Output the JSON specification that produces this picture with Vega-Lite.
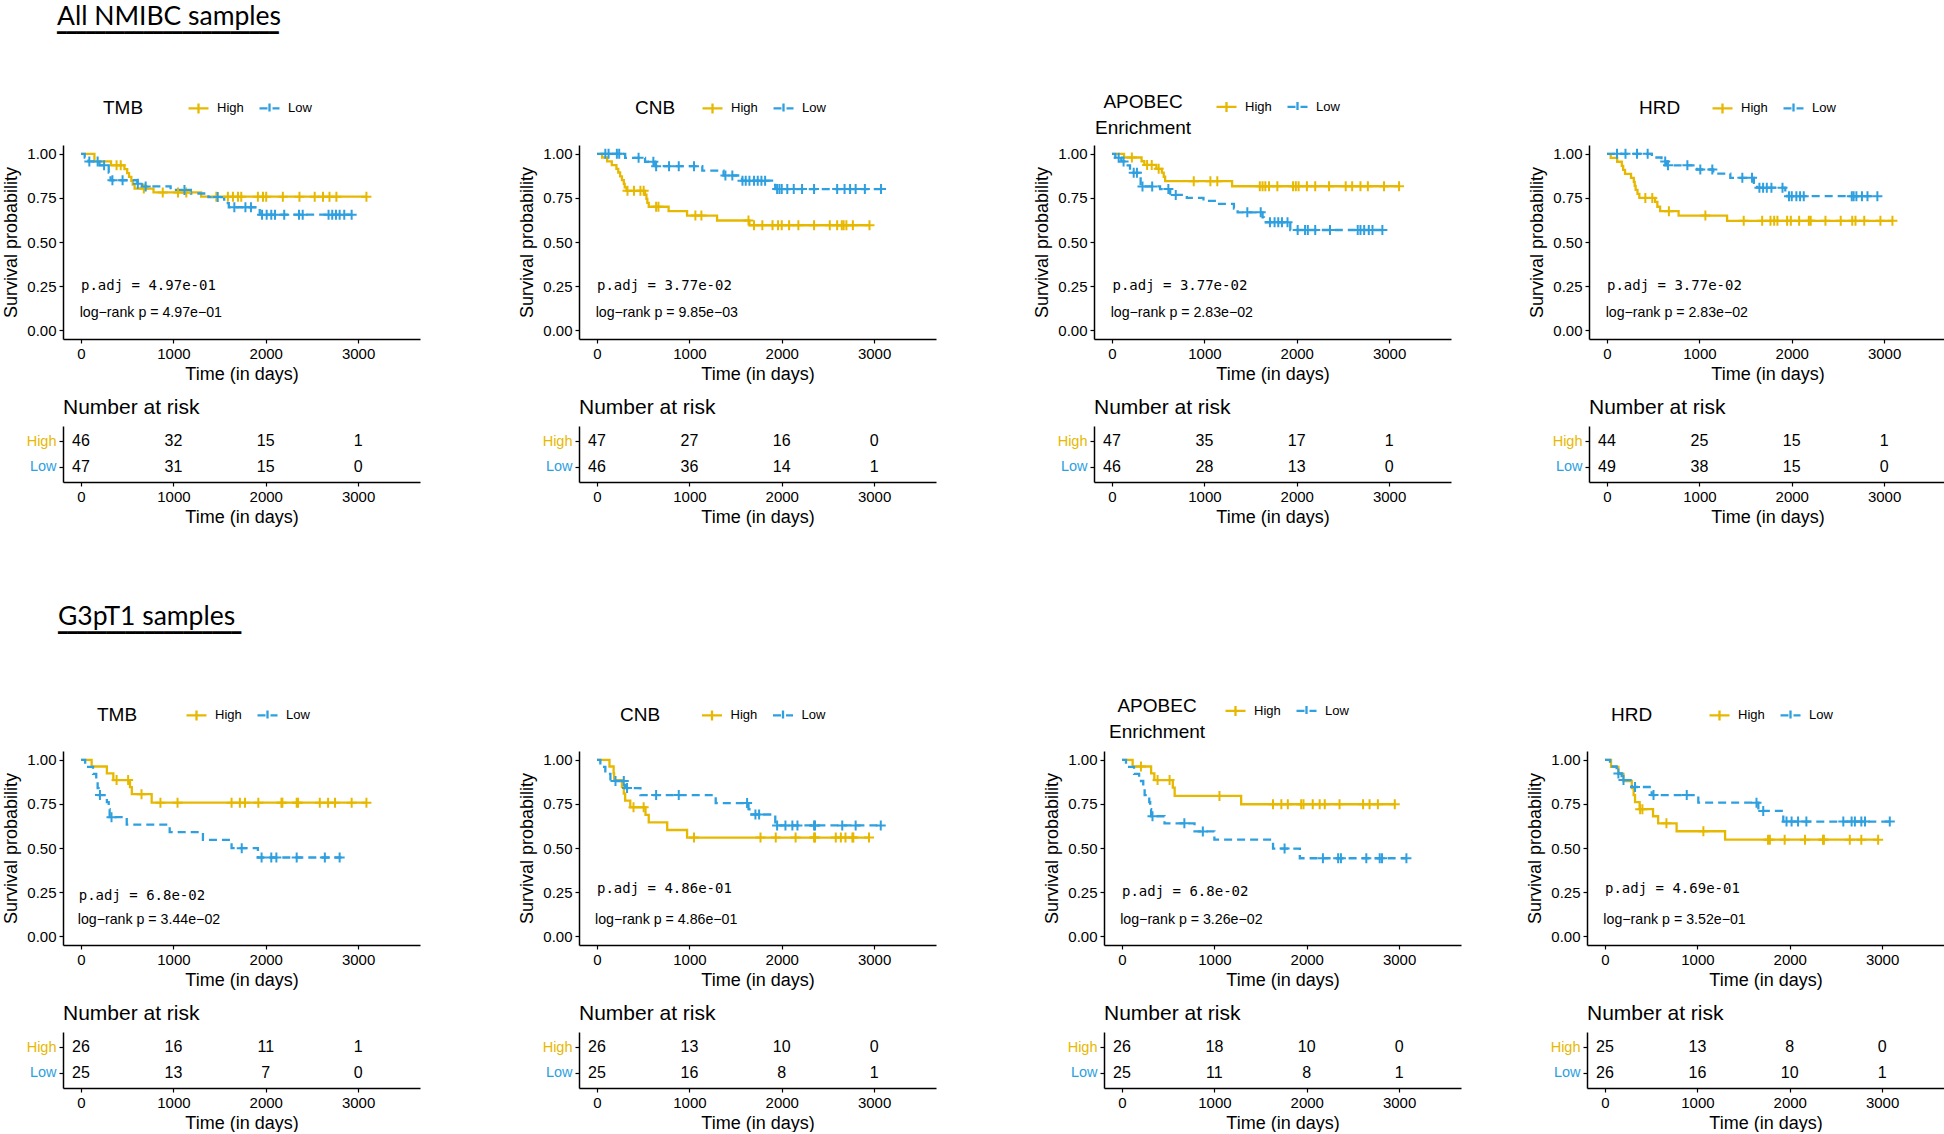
{
"$schema": "https://vega.github.io/schema/vega-lite/v6.json",
"background": "white",
"padding": {"left": 2, "top": 3, "right": 0, "bottom": 0},
"datasets": {
"steps": [
{"panel":"a1","group":"High","time":0,"surv":1},{"panel":"a1","group":"High","time":145,"surv":0.957},{"panel":"a1","group":"High","time":325,"surv":0.935},{"panel":"a1","group":"High","time":470,"surv":0.913},{"panel":"a1","group":"High","time":500,"surv":0.891},{"panel":"a1","group":"High","time":520,"surv":0.869},{"panel":"a1","group":"High","time":545,"surv":0.847},{"panel":"a1","group":"High","time":560,"surv":0.825},{"panel":"a1","group":"High","time":580,"surv":0.803},{"panel":"a1","group":"High","time":785,"surv":0.781},{"panel":"a1","group":"High","time":1300,"surv":0.757},{"panel":"a1","group":"High","time":3090,"surv":0.757},
{"panel":"a1","group":"Low","time":0,"surv":1},{"panel":"a1","group":"Low","time":40,"surv":0.979},{"panel":"a1","group":"Low","time":80,"surv":0.957},{"panel":"a1","group":"Low","time":200,"surv":0.935},{"panel":"a1","group":"Low","time":300,"surv":0.893},{"panel":"a1","group":"Low","time":320,"surv":0.85},{"panel":"a1","group":"Low","time":610,"surv":0.83},{"panel":"a1","group":"Low","time":660,"surv":0.815},{"panel":"a1","group":"Low","time":970,"surv":0.795},{"panel":"a1","group":"Low","time":1190,"surv":0.775},{"panel":"a1","group":"Low","time":1380,"surv":0.755},{"panel":"a1","group":"Low","time":1550,"surv":0.72},{"panel":"a1","group":"Low","time":1600,"surv":0.697},{"panel":"a1","group":"Low","time":1935,"surv":0.655},{"panel":"a1","group":"Low","time":2930,"surv":0.655},
{"panel":"a2","group":"High","time":0,"surv":1},{"panel":"a2","group":"High","time":55,"surv":0.979},{"panel":"a2","group":"High","time":110,"surv":0.957},{"panel":"a2","group":"High","time":160,"surv":0.936},{"panel":"a2","group":"High","time":210,"surv":0.915},{"panel":"a2","group":"High","time":230,"surv":0.894},{"panel":"a2","group":"High","time":250,"surv":0.872},{"panel":"a2","group":"High","time":270,"surv":0.851},{"panel":"a2","group":"High","time":290,"surv":0.83},{"panel":"a2","group":"High","time":300,"surv":0.81},{"panel":"a2","group":"High","time":320,"surv":0.79},{"panel":"a2","group":"High","time":520,"surv":0.768},{"panel":"a2","group":"High","time":535,"surv":0.745},{"panel":"a2","group":"High","time":545,"surv":0.722},{"panel":"a2","group":"High","time":560,"surv":0.7},{"panel":"a2","group":"High","time":775,"surv":0.675},{"panel":"a2","group":"High","time":975,"surv":0.65},{"panel":"a2","group":"High","time":1300,"surv":0.622},{"panel":"a2","group":"High","time":1650,"surv":0.595},{"panel":"a2","group":"High","time":2950,"surv":0.595},
{"panel":"a2","group":"Low","time":0,"surv":1},{"panel":"a2","group":"Low","time":305,"surv":0.977},{"panel":"a2","group":"Low","time":520,"surv":0.955},{"panel":"a2","group":"Low","time":630,"surv":0.93},{"panel":"a2","group":"Low","time":1140,"surv":0.905},{"panel":"a2","group":"Low","time":1370,"surv":0.877},{"panel":"a2","group":"Low","time":1570,"surv":0.848},{"panel":"a2","group":"Low","time":1895,"surv":0.824},{"panel":"a2","group":"Low","time":1930,"surv":0.8},{"panel":"a2","group":"Low","time":3075,"surv":0.8},
{"panel":"a3","group":"High","time":0,"surv":1},{"panel":"a3","group":"High","time":130,"surv":0.979},{"panel":"a3","group":"High","time":320,"surv":0.958},{"panel":"a3","group":"High","time":350,"surv":0.937},{"panel":"a3","group":"High","time":480,"surv":0.915},{"panel":"a3","group":"High","time":540,"surv":0.893},{"panel":"a3","group":"High","time":560,"surv":0.87},{"panel":"a3","group":"High","time":575,"surv":0.845},{"panel":"a3","group":"High","time":1300,"surv":0.816},{"panel":"a3","group":"High","time":3108,"surv":0.816},
{"panel":"a3","group":"Low","time":0,"surv":1},{"panel":"a3","group":"Low","time":36,"surv":0.978},{"panel":"a3","group":"Low","time":100,"surv":0.957},{"panel":"a3","group":"Low","time":150,"surv":0.935},{"panel":"a3","group":"Low","time":195,"surv":0.892},{"panel":"a3","group":"Low","time":300,"surv":0.87},{"panel":"a3","group":"Low","time":310,"surv":0.815},{"panel":"a3","group":"Low","time":520,"surv":0.8},{"panel":"a3","group":"Low","time":630,"surv":0.767},{"panel":"a3","group":"Low","time":810,"surv":0.75},{"panel":"a3","group":"Low","time":990,"surv":0.733},{"panel":"a3","group":"Low","time":1140,"surv":0.716},{"panel":"a3","group":"Low","time":1320,"surv":0.69},{"panel":"a3","group":"Low","time":1360,"surv":0.668},{"panel":"a3","group":"Low","time":1630,"surv":0.64},{"panel":"a3","group":"Low","time":1645,"surv":0.612},{"panel":"a3","group":"Low","time":1930,"surv":0.568},{"panel":"a3","group":"Low","time":2927,"surv":0.568},
{"panel":"a4","group":"High","time":0,"surv":1},{"panel":"a4","group":"High","time":40,"surv":0.977},{"panel":"a4","group":"High","time":110,"surv":0.955},{"panel":"a4","group":"High","time":160,"surv":0.932},{"panel":"a4","group":"High","time":175,"surv":0.909},{"panel":"a4","group":"High","time":195,"surv":0.886},{"panel":"a4","group":"High","time":260,"surv":0.864},{"panel":"a4","group":"High","time":290,"surv":0.841},{"panel":"a4","group":"High","time":300,"surv":0.818},{"panel":"a4","group":"High","time":310,"surv":0.795},{"panel":"a4","group":"High","time":330,"surv":0.773},{"panel":"a4","group":"High","time":350,"surv":0.75},{"panel":"a4","group":"High","time":520,"surv":0.727},{"panel":"a4","group":"High","time":545,"surv":0.7},{"panel":"a4","group":"High","time":575,"surv":0.675},{"panel":"a4","group":"High","time":775,"surv":0.65},{"panel":"a4","group":"High","time":1300,"surv":0.62},{"panel":"a4","group":"High","time":3090,"surv":0.62},
{"panel":"a4","group":"Low","time":0,"surv":1},{"panel":"a4","group":"Low","time":485,"surv":0.979},{"panel":"a4","group":"Low","time":590,"surv":0.957},{"panel":"a4","group":"Low","time":650,"surv":0.935},{"panel":"a4","group":"Low","time":975,"surv":0.911},{"panel":"a4","group":"Low","time":1150,"surv":0.888},{"panel":"a4","group":"Low","time":1335,"surv":0.864},{"panel":"a4","group":"Low","time":1590,"surv":0.835},{"panel":"a4","group":"Low","time":1625,"surv":0.808},{"panel":"a4","group":"Low","time":1930,"surv":0.784},{"panel":"a4","group":"Low","time":1950,"surv":0.76},{"panel":"a4","group":"Low","time":2927,"surv":0.76},
{"panel":"b1","group":"High","time":0,"surv":1},{"panel":"b1","group":"High","time":115,"surv":0.962},{"panel":"b1","group":"High","time":280,"surv":0.923},{"panel":"b1","group":"High","time":350,"surv":0.885},{"panel":"b1","group":"High","time":530,"surv":0.845},{"panel":"b1","group":"High","time":550,"surv":0.805},{"panel":"b1","group":"High","time":765,"surv":0.757},{"panel":"b1","group":"High","time":3090,"surv":0.757},
{"panel":"b1","group":"Low","time":0,"surv":1},{"panel":"b1","group":"Low","time":45,"surv":0.96},{"panel":"b1","group":"Low","time":130,"surv":0.92},{"panel":"b1","group":"Low","time":165,"surv":0.88},{"panel":"b1","group":"Low","time":180,"surv":0.84},{"panel":"b1","group":"Low","time":190,"surv":0.8},{"panel":"b1","group":"Low","time":280,"surv":0.76},{"panel":"b1","group":"Low","time":300,"surv":0.72},{"panel":"b1","group":"Low","time":310,"surv":0.675},{"panel":"b1","group":"Low","time":495,"surv":0.633},{"panel":"b1","group":"Low","time":960,"surv":0.59},{"panel":"b1","group":"Low","time":1320,"surv":0.546},{"panel":"b1","group":"Low","time":1630,"surv":0.499},{"panel":"b1","group":"Low","time":1915,"surv":0.446},{"panel":"b1","group":"Low","time":2820,"surv":0.446},
{"panel":"b2","group":"High","time":0,"surv":1},{"panel":"b2","group":"High","time":135,"surv":0.962},{"panel":"b2","group":"High","time":180,"surv":0.923},{"panel":"b2","group":"High","time":185,"surv":0.885},{"panel":"b2","group":"High","time":270,"surv":0.846},{"panel":"b2","group":"High","time":290,"surv":0.808},{"panel":"b2","group":"High","time":305,"surv":0.769},{"panel":"b2","group":"High","time":360,"surv":0.731},{"panel":"b2","group":"High","time":525,"surv":0.688},{"panel":"b2","group":"High","time":560,"surv":0.645},{"panel":"b2","group":"High","time":760,"surv":0.602},{"panel":"b2","group":"High","time":975,"surv":0.559},{"panel":"b2","group":"High","time":2950,"surv":0.559},
{"panel":"b2","group":"Low","time":0,"surv":1},{"panel":"b2","group":"Low","time":36,"surv":0.96},{"panel":"b2","group":"Low","time":90,"surv":0.92},{"panel":"b2","group":"Low","time":145,"surv":0.88},{"panel":"b2","group":"Low","time":305,"surv":0.84},{"panel":"b2","group":"Low","time":470,"surv":0.8},{"panel":"b2","group":"Low","time":1285,"surv":0.755},{"panel":"b2","group":"Low","time":1640,"surv":0.72},{"panel":"b2","group":"Low","time":1650,"surv":0.69},{"panel":"b2","group":"Low","time":1930,"surv":0.628},{"panel":"b2","group":"Low","time":3072,"surv":0.628},
{"panel":"b3","group":"High","time":0,"surv":1},{"panel":"b3","group":"High","time":115,"surv":0.962},{"panel":"b3","group":"High","time":315,"surv":0.923},{"panel":"b3","group":"High","time":350,"surv":0.885},{"panel":"b3","group":"High","time":550,"surv":0.842},{"panel":"b3","group":"High","time":570,"surv":0.795},{"panel":"b3","group":"High","time":1290,"surv":0.748},{"panel":"b3","group":"High","time":2953,"surv":0.748},
{"panel":"b3","group":"Low","time":0,"surv":1},{"panel":"b3","group":"Low","time":43,"surv":0.96},{"panel":"b3","group":"Low","time":130,"surv":0.92},{"panel":"b3","group":"Low","time":185,"surv":0.88},{"panel":"b3","group":"Low","time":230,"surv":0.84},{"panel":"b3","group":"Low","time":245,"surv":0.8},{"panel":"b3","group":"Low","time":295,"surv":0.76},{"panel":"b3","group":"Low","time":305,"surv":0.72},{"panel":"b3","group":"Low","time":315,"surv":0.68},{"panel":"b3","group":"Low","time":460,"surv":0.64},{"panel":"b3","group":"Low","time":785,"surv":0.594},{"panel":"b3","group":"Low","time":1000,"surv":0.547},{"panel":"b3","group":"Low","time":1635,"surv":0.497},{"panel":"b3","group":"Low","time":1925,"surv":0.442},{"panel":"b3","group":"Low","time":3079,"surv":0.442},
{"panel":"b4","group":"High","time":0,"surv":1},{"panel":"b4","group":"High","time":65,"surv":0.96},{"panel":"b4","group":"High","time":145,"surv":0.92},{"panel":"b4","group":"High","time":200,"surv":0.88},{"panel":"b4","group":"High","time":290,"surv":0.84},{"panel":"b4","group":"High","time":310,"surv":0.8},{"panel":"b4","group":"High","time":325,"surv":0.76},{"panel":"b4","group":"High","time":375,"surv":0.72},{"panel":"b4","group":"High","time":520,"surv":0.68},{"panel":"b4","group":"High","time":575,"surv":0.64},{"panel":"b4","group":"High","time":775,"surv":0.595},{"panel":"b4","group":"High","time":1300,"surv":0.547},{"panel":"b4","group":"High","time":2957,"surv":0.547},
{"panel":"b4","group":"Low","time":0,"surv":1},{"panel":"b4","group":"Low","time":54,"surv":0.962},{"panel":"b4","group":"Low","time":126,"surv":0.923},{"panel":"b4","group":"Low","time":180,"surv":0.885},{"panel":"b4","group":"Low","time":290,"surv":0.846},{"panel":"b4","group":"Low","time":505,"surv":0.8},{"panel":"b4","group":"Low","time":1010,"surv":0.757},{"panel":"b4","group":"Low","time":1660,"surv":0.71},{"panel":"b4","group":"Low","time":1930,"surv":0.65},{"panel":"b4","group":"Low","time":3085,"surv":0.65}
],
"censors": [
{"panel":"a1","group":"High","time":385,"surv":0.935},{"panel":"a1","group":"High","time":430,"surv":0.935},{"panel":"a1","group":"High","time":680,"surv":0.803},{"panel":"a1","group":"High","time":885,"surv":0.781},{"panel":"a1","group":"High","time":1050,"surv":0.781},{"panel":"a1","group":"High","time":1140,"surv":0.781},{"panel":"a1","group":"High","time":1465,"surv":0.757},{"panel":"a1","group":"High","time":1590,"surv":0.757},{"panel":"a1","group":"High","time":1645,"surv":0.757},{"panel":"a1","group":"High","time":1700,"surv":0.757},{"panel":"a1","group":"High","time":1735,"surv":0.757},{"panel":"a1","group":"High","time":1915,"surv":0.757},{"panel":"a1","group":"High","time":1970,"surv":0.757},{"panel":"a1","group":"High","time":2005,"surv":0.757},{"panel":"a1","group":"High","time":2185,"surv":0.757},{"panel":"a1","group":"High","time":2365,"surv":0.757},{"panel":"a1","group":"High","time":2530,"surv":0.757},{"panel":"a1","group":"High","time":2620,"surv":0.757},{"panel":"a1","group":"High","time":2690,"surv":0.757},{"panel":"a1","group":"High","time":2765,"surv":0.757},{"panel":"a1","group":"High","time":3090,"surv":0.757},
{"panel":"a1","group":"Low","time":90,"surv":0.957},{"panel":"a1","group":"Low","time":180,"surv":0.957},{"panel":"a1","group":"Low","time":250,"surv":0.935},{"panel":"a1","group":"Low","time":340,"surv":0.85},{"panel":"a1","group":"Low","time":450,"surv":0.85},{"panel":"a1","group":"Low","time":615,"surv":0.83},{"panel":"a1","group":"Low","time":700,"surv":0.815},{"panel":"a1","group":"Low","time":1120,"surv":0.795},{"panel":"a1","group":"Low","time":1480,"surv":0.755},{"panel":"a1","group":"Low","time":1660,"surv":0.697},{"panel":"a1","group":"Low","time":1780,"surv":0.697},{"panel":"a1","group":"Low","time":1840,"surv":0.697},{"panel":"a1","group":"Low","time":1960,"surv":0.655},{"panel":"a1","group":"Low","time":2010,"surv":0.655},{"panel":"a1","group":"Low","time":2060,"surv":0.655},{"panel":"a1","group":"Low","time":2100,"surv":0.655},{"panel":"a1","group":"Low","time":2200,"surv":0.655},{"panel":"a1","group":"Low","time":2360,"surv":0.655},{"panel":"a1","group":"Low","time":2400,"surv":0.655},{"panel":"a1","group":"Low","time":2680,"surv":0.655},{"panel":"a1","group":"Low","time":2720,"surv":0.655},{"panel":"a1","group":"Low","time":2760,"surv":0.655},{"panel":"a1","group":"Low","time":2800,"surv":0.655},{"panel":"a1","group":"Low","time":2850,"surv":0.655},{"panel":"a1","group":"Low","time":2930,"surv":0.655},
{"panel":"a2","group":"High","time":330,"surv":0.79},{"panel":"a2","group":"High","time":400,"surv":0.79},{"panel":"a2","group":"High","time":470,"surv":0.79},{"panel":"a2","group":"High","time":505,"surv":0.79},{"panel":"a2","group":"High","time":640,"surv":0.7},{"panel":"a2","group":"High","time":665,"surv":0.7},{"panel":"a2","group":"High","time":1065,"surv":0.65},{"panel":"a2","group":"High","time":1130,"surv":0.65},{"panel":"a2","group":"High","time":1640,"surv":0.622},{"panel":"a2","group":"High","time":1700,"surv":0.595},{"panel":"a2","group":"High","time":1790,"surv":0.595},{"panel":"a2","group":"High","time":1900,"surv":0.595},{"panel":"a2","group":"High","time":1960,"surv":0.595},{"panel":"a2","group":"High","time":2000,"surv":0.595},{"panel":"a2","group":"High","time":2080,"surv":0.595},{"panel":"a2","group":"High","time":2180,"surv":0.595},{"panel":"a2","group":"High","time":2350,"surv":0.595},{"panel":"a2","group":"High","time":2520,"surv":0.595},{"panel":"a2","group":"High","time":2600,"surv":0.595},{"panel":"a2","group":"High","time":2650,"surv":0.595},{"panel":"a2","group":"High","time":2670,"surv":0.595},{"panel":"a2","group":"High","time":2700,"surv":0.595},{"panel":"a2","group":"High","time":2770,"surv":0.595},{"panel":"a2","group":"High","time":2950,"surv":0.595},
{"panel":"a2","group":"Low","time":90,"surv":1},{"panel":"a2","group":"Low","time":125,"surv":1},{"panel":"a2","group":"Low","time":215,"surv":1},{"panel":"a2","group":"Low","time":240,"surv":1},{"panel":"a2","group":"Low","time":450,"surv":0.977},{"panel":"a2","group":"Low","time":610,"surv":0.955},{"panel":"a2","group":"Low","time":640,"surv":0.93},{"panel":"a2","group":"Low","time":780,"surv":0.93},{"panel":"a2","group":"Low","time":885,"surv":0.93},{"panel":"a2","group":"Low","time":1050,"surv":0.93},{"panel":"a2","group":"Low","time":1390,"surv":0.877},{"panel":"a2","group":"Low","time":1465,"surv":0.877},{"panel":"a2","group":"Low","time":1575,"surv":0.848},{"panel":"a2","group":"Low","time":1610,"surv":0.848},{"panel":"a2","group":"Low","time":1650,"surv":0.848},{"panel":"a2","group":"Low","time":1700,"surv":0.848},{"panel":"a2","group":"Low","time":1740,"surv":0.848},{"panel":"a2","group":"Low","time":1780,"surv":0.848},{"panel":"a2","group":"Low","time":1820,"surv":0.848},{"panel":"a2","group":"Low","time":1950,"surv":0.8},{"panel":"a2","group":"Low","time":1975,"surv":0.8},{"panel":"a2","group":"Low","time":2000,"surv":0.8},{"panel":"a2","group":"Low","time":2060,"surv":0.8},{"panel":"a2","group":"Low","time":2130,"surv":0.8},{"panel":"a2","group":"Low","time":2220,"surv":0.8},{"panel":"a2","group":"Low","time":2350,"surv":0.8},{"panel":"a2","group":"Low","time":2600,"surv":0.8},{"panel":"a2","group":"Low","time":2680,"surv":0.8},{"panel":"a2","group":"Low","time":2740,"surv":0.8},{"panel":"a2","group":"Low","time":2800,"surv":0.8},{"panel":"a2","group":"Low","time":2900,"surv":0.8},{"panel":"a2","group":"Low","time":3075,"surv":0.8},
{"panel":"a3","group":"High","time":215,"surv":0.979},{"panel":"a3","group":"High","time":380,"surv":0.937},{"panel":"a3","group":"High","time":430,"surv":0.937},{"panel":"a3","group":"High","time":505,"surv":0.915},{"panel":"a3","group":"High","time":885,"surv":0.845},{"panel":"a3","group":"High","time":1065,"surv":0.845},{"panel":"a3","group":"High","time":1140,"surv":0.845},{"panel":"a3","group":"High","time":1600,"surv":0.816},{"panel":"a3","group":"High","time":1630,"surv":0.816},{"panel":"a3","group":"High","time":1660,"surv":0.816},{"panel":"a3","group":"High","time":1700,"surv":0.816},{"panel":"a3","group":"High","time":1790,"surv":0.816},{"panel":"a3","group":"High","time":1960,"surv":0.816},{"panel":"a3","group":"High","time":1990,"surv":0.816},{"panel":"a3","group":"High","time":2020,"surv":0.816},{"panel":"a3","group":"High","time":2110,"surv":0.816},{"panel":"a3","group":"High","time":2200,"surv":0.816},{"panel":"a3","group":"High","time":2350,"surv":0.816},{"panel":"a3","group":"High","time":2530,"surv":0.816},{"panel":"a3","group":"High","time":2600,"surv":0.816},{"panel":"a3","group":"High","time":2690,"surv":0.816},{"panel":"a3","group":"High","time":2770,"surv":0.816},{"panel":"a3","group":"High","time":2945,"surv":0.816},{"panel":"a3","group":"High","time":3108,"surv":0.816},
{"panel":"a3","group":"Low","time":72,"surv":0.978},{"panel":"a3","group":"Low","time":125,"surv":0.957},{"panel":"a3","group":"Low","time":235,"surv":0.892},{"panel":"a3","group":"Low","time":270,"surv":0.892},{"panel":"a3","group":"Low","time":330,"surv":0.815},{"panel":"a3","group":"Low","time":435,"surv":0.815},{"panel":"a3","group":"Low","time":610,"surv":0.8},{"panel":"a3","group":"Low","time":690,"surv":0.767},{"panel":"a3","group":"Low","time":1465,"surv":0.668},{"panel":"a3","group":"Low","time":1610,"surv":0.668},{"panel":"a3","group":"Low","time":1710,"surv":0.612},{"panel":"a3","group":"Low","time":1760,"surv":0.612},{"panel":"a3","group":"Low","time":1800,"surv":0.612},{"panel":"a3","group":"Low","time":1840,"surv":0.612},{"panel":"a3","group":"Low","time":1900,"surv":0.612},{"panel":"a3","group":"Low","time":2010,"surv":0.568},{"panel":"a3","group":"Low","time":2090,"surv":0.568},{"panel":"a3","group":"Low","time":2120,"surv":0.568},{"panel":"a3","group":"Low","time":2200,"surv":0.568},{"panel":"a3","group":"Low","time":2360,"surv":0.568},{"panel":"a3","group":"Low","time":2660,"surv":0.568},{"panel":"a3","group":"Low","time":2690,"surv":0.568},{"panel":"a3","group":"Low","time":2730,"surv":0.568},{"panel":"a3","group":"Low","time":2780,"surv":0.568},{"panel":"a3","group":"Low","time":2820,"surv":0.568},{"panel":"a3","group":"Low","time":2927,"surv":0.568},
{"panel":"a4","group":"High","time":415,"surv":0.75},{"panel":"a4","group":"High","time":490,"surv":0.75},{"panel":"a4","group":"High","time":670,"surv":0.675},{"panel":"a4","group":"High","time":1065,"surv":0.65},{"panel":"a4","group":"High","time":1480,"surv":0.62},{"panel":"a4","group":"High","time":1680,"surv":0.62},{"panel":"a4","group":"High","time":1770,"surv":0.62},{"panel":"a4","group":"High","time":1810,"surv":0.62},{"panel":"a4","group":"High","time":1845,"surv":0.62},{"panel":"a4","group":"High","time":1950,"surv":0.62},{"panel":"a4","group":"High","time":1990,"surv":0.62},{"panel":"a4","group":"High","time":2080,"surv":0.62},{"panel":"a4","group":"High","time":2185,"surv":0.62},{"panel":"a4","group":"High","time":2205,"surv":0.62},{"panel":"a4","group":"High","time":2365,"surv":0.62},{"panel":"a4","group":"High","time":2530,"surv":0.62},{"panel":"a4","group":"High","time":2655,"surv":0.62},{"panel":"a4","group":"High","time":2690,"surv":0.62},{"panel":"a4","group":"High","time":2785,"surv":0.62},{"panel":"a4","group":"High","time":2960,"surv":0.62},{"panel":"a4","group":"High","time":3090,"surv":0.62},
{"panel":"a4","group":"Low","time":108,"surv":1},{"panel":"a4","group":"Low","time":200,"surv":1},{"panel":"a4","group":"Low","time":325,"surv":1},{"panel":"a4","group":"Low","time":440,"surv":1},{"panel":"a4","group":"Low","time":630,"surv":0.957},{"panel":"a4","group":"Low","time":660,"surv":0.935},{"panel":"a4","group":"Low","time":870,"surv":0.935},{"panel":"a4","group":"Low","time":1010,"surv":0.911},{"panel":"a4","group":"Low","time":1140,"surv":0.911},{"panel":"a4","group":"Low","time":1465,"surv":0.864},{"panel":"a4","group":"Low","time":1570,"surv":0.864},{"panel":"a4","group":"Low","time":1650,"surv":0.808},{"panel":"a4","group":"Low","time":1690,"surv":0.808},{"panel":"a4","group":"Low","time":1730,"surv":0.808},{"panel":"a4","group":"Low","time":1780,"surv":0.808},{"panel":"a4","group":"Low","time":1900,"surv":0.808},{"panel":"a4","group":"Low","time":1970,"surv":0.76},{"panel":"a4","group":"Low","time":2000,"surv":0.76},{"panel":"a4","group":"Low","time":2050,"surv":0.76},{"panel":"a4","group":"Low","time":2090,"surv":0.76},{"panel":"a4","group":"Low","time":2130,"surv":0.76},{"panel":"a4","group":"Low","time":2650,"surv":0.76},{"panel":"a4","group":"Low","time":2670,"surv":0.76},{"panel":"a4","group":"Low","time":2700,"surv":0.76},{"panel":"a4","group":"Low","time":2760,"surv":0.76},{"panel":"a4","group":"Low","time":2820,"surv":0.76},{"panel":"a4","group":"Low","time":2927,"surv":0.76},
{"panel":"b1","group":"High","time":385,"surv":0.885},{"panel":"b1","group":"High","time":510,"surv":0.885},{"panel":"b1","group":"High","time":655,"surv":0.805},{"panel":"b1","group":"High","time":860,"surv":0.757},{"panel":"b1","group":"High","time":1045,"surv":0.757},{"panel":"b1","group":"High","time":1630,"surv":0.757},{"panel":"b1","group":"High","time":1720,"surv":0.757},{"panel":"b1","group":"High","time":1775,"surv":0.757},{"panel":"b1","group":"High","time":1920,"surv":0.757},{"panel":"b1","group":"High","time":2170,"surv":0.757},{"panel":"b1","group":"High","time":2180,"surv":0.757},{"panel":"b1","group":"High","time":2335,"surv":0.757},{"panel":"b1","group":"High","time":2350,"surv":0.757},{"panel":"b1","group":"High","time":2585,"surv":0.757},{"panel":"b1","group":"High","time":2675,"surv":0.757},{"panel":"b1","group":"High","time":2750,"surv":0.757},{"panel":"b1","group":"High","time":2930,"surv":0.757},{"panel":"b1","group":"High","time":3090,"surv":0.757},
{"panel":"b1","group":"Low","time":205,"surv":0.8},{"panel":"b1","group":"Low","time":330,"surv":0.675},{"panel":"b1","group":"Low","time":1740,"surv":0.499},{"panel":"b1","group":"Low","time":1955,"surv":0.446},{"panel":"b1","group":"Low","time":2060,"surv":0.446},{"panel":"b1","group":"Low","time":2115,"surv":0.446},{"panel":"b1","group":"Low","time":2335,"surv":0.446},{"panel":"b1","group":"Low","time":2640,"surv":0.446},{"panel":"b1","group":"Low","time":2800,"surv":0.446},
{"panel":"b2","group":"High","time":395,"surv":0.731},{"panel":"b2","group":"High","time":505,"surv":0.731},{"panel":"b2","group":"High","time":1050,"surv":0.559},{"panel":"b2","group":"High","time":1770,"surv":0.559},{"panel":"b2","group":"High","time":1935,"surv":0.559},{"panel":"b2","group":"High","time":2150,"surv":0.559},{"panel":"b2","group":"High","time":2350,"surv":0.559},{"panel":"b2","group":"High","time":2360,"surv":0.559},{"panel":"b2","group":"High","time":2585,"surv":0.559},{"panel":"b2","group":"High","time":2640,"surv":0.559},{"panel":"b2","group":"High","time":2690,"surv":0.559},{"panel":"b2","group":"High","time":2765,"surv":0.559},{"panel":"b2","group":"High","time":2775,"surv":0.559},{"panel":"b2","group":"High","time":2945,"surv":0.559},
{"panel":"b2","group":"Low","time":200,"surv":0.88},{"panel":"b2","group":"Low","time":290,"surv":0.88},{"panel":"b2","group":"Low","time":325,"surv":0.84},{"panel":"b2","group":"Low","time":640,"surv":0.8},{"panel":"b2","group":"Low","time":885,"surv":0.8},{"panel":"b2","group":"Low","time":1625,"surv":0.755},{"panel":"b2","group":"Low","time":1715,"surv":0.69},{"panel":"b2","group":"Low","time":1755,"surv":0.69},{"panel":"b2","group":"Low","time":1950,"surv":0.628},{"panel":"b2","group":"Low","time":2040,"surv":0.628},{"panel":"b2","group":"Low","time":2115,"surv":0.628},{"panel":"b2","group":"Low","time":2170,"surv":0.628},{"panel":"b2","group":"Low","time":2350,"surv":0.628},{"panel":"b2","group":"Low","time":2360,"surv":0.628},{"panel":"b2","group":"Low","time":2655,"surv":0.628},{"panel":"b2","group":"Low","time":2800,"surv":0.628},{"panel":"b2","group":"Low","time":3072,"surv":0.628},
{"panel":"b3","group":"High","time":205,"surv":0.962},{"panel":"b3","group":"High","time":385,"surv":0.885},{"panel":"b3","group":"High","time":515,"surv":0.885},{"panel":"b3","group":"High","time":1055,"surv":0.795},{"panel":"b3","group":"High","time":1635,"surv":0.748},{"panel":"b3","group":"High","time":1725,"surv":0.748},{"panel":"b3","group":"High","time":1795,"surv":0.748},{"panel":"b3","group":"High","time":1940,"surv":0.748},{"panel":"b3","group":"High","time":1965,"surv":0.748},{"panel":"b3","group":"High","time":2065,"surv":0.748},{"panel":"b3","group":"High","time":2140,"surv":0.748},{"panel":"b3","group":"High","time":2195,"surv":0.748},{"panel":"b3","group":"High","time":2355,"surv":0.748},{"panel":"b3","group":"High","time":2610,"surv":0.748},{"panel":"b3","group":"High","time":2680,"surv":0.748},{"panel":"b3","group":"High","time":2770,"surv":0.748},{"panel":"b3","group":"High","time":2953,"surv":0.748},
{"panel":"b3","group":"Low","time":330,"surv":0.68},{"panel":"b3","group":"Low","time":675,"surv":0.64},{"panel":"b3","group":"Low","time":875,"surv":0.594},{"panel":"b3","group":"Low","time":1760,"surv":0.497},{"panel":"b3","group":"Low","time":2175,"surv":0.442},{"panel":"b3","group":"Low","time":2340,"surv":0.442},{"panel":"b3","group":"Low","time":2370,"surv":0.442},{"panel":"b3","group":"Low","time":2645,"surv":0.442},{"panel":"b3","group":"Low","time":2790,"surv":0.442},{"panel":"b3","group":"Low","time":2815,"surv":0.442},{"panel":"b3","group":"Low","time":3079,"surv":0.442},
{"panel":"b4","group":"High","time":380,"surv":0.72},{"panel":"b4","group":"High","time":405,"surv":0.72},{"panel":"b4","group":"High","time":665,"surv":0.64},{"panel":"b4","group":"High","time":1065,"surv":0.595},{"panel":"b4","group":"High","time":1765,"surv":0.547},{"panel":"b4","group":"High","time":1785,"surv":0.547},{"panel":"b4","group":"High","time":1945,"surv":0.547},{"panel":"b4","group":"High","time":2165,"surv":0.547},{"panel":"b4","group":"High","time":2360,"surv":0.547},{"panel":"b4","group":"High","time":2370,"surv":0.547},{"panel":"b4","group":"High","time":2650,"surv":0.547},{"panel":"b4","group":"High","time":2775,"surv":0.547},{"panel":"b4","group":"High","time":2957,"surv":0.547},
{"panel":"b4","group":"Low","time":145,"surv":0.923},{"panel":"b4","group":"Low","time":200,"surv":0.885},{"panel":"b4","group":"Low","time":325,"surv":0.846},{"panel":"b4","group":"Low","time":525,"surv":0.8},{"panel":"b4","group":"Low","time":885,"surv":0.8},{"panel":"b4","group":"Low","time":1640,"surv":0.757},{"panel":"b4","group":"Low","time":1713,"surv":0.71},{"panel":"b4","group":"Low","time":1965,"surv":0.65},{"panel":"b4","group":"Low","time":2020,"surv":0.65},{"panel":"b4","group":"Low","time":2090,"surv":0.65},{"panel":"b4","group":"Low","time":2180,"surv":0.65},{"panel":"b4","group":"Low","time":2580,"surv":0.65},{"panel":"b4","group":"Low","time":2670,"surv":0.65},{"panel":"b4","group":"Low","time":2705,"surv":0.65},{"panel":"b4","group":"Low","time":2775,"surv":0.65},{"panel":"b4","group":"Low","time":2815,"surv":0.65},{"panel":"b4","group":"Low","time":3083,"surv":0.65}
],
"stats": [
{"panel":"a1","padj":"p.adj = 4.97e-01","lr":"log−rank p = 4.97e−01"},
{"panel":"a2","padj":"p.adj = 3.77e-02","lr":"log−rank p = 9.85e−03"},
{"panel":"a3","padj":"p.adj = 3.77e-02","lr":"log−rank p = 2.83e−02"},
{"panel":"a4","padj":"p.adj = 3.77e-02","lr":"log−rank p = 2.83e−02"},
{"panel":"b1","padj":"p.adj = 6.8e-02","lr":"log−rank p = 3.44e−02"},
{"panel":"b2","padj":"p.adj = 4.86e-01","lr":"log−rank p = 4.86e−01"},
{"panel":"b3","padj":"p.adj = 6.8e-02","lr":"log−rank p = 3.26e−02"},
{"panel":"b4","padj":"p.adj = 4.69e-01","lr":"log−rank p = 3.52e−01"}
],
"risk": [
{"panel":"a1","group":"High","time":0,"n":46},{"panel":"a1","group":"High","time":1000,"n":32},{"panel":"a1","group":"High","time":2000,"n":15},{"panel":"a1","group":"High","time":3000,"n":1},
{"panel":"a1","group":"Low","time":0,"n":47},{"panel":"a1","group":"Low","time":1000,"n":31},{"panel":"a1","group":"Low","time":2000,"n":15},{"panel":"a1","group":"Low","time":3000,"n":0},
{"panel":"a2","group":"High","time":0,"n":47},{"panel":"a2","group":"High","time":1000,"n":27},{"panel":"a2","group":"High","time":2000,"n":16},{"panel":"a2","group":"High","time":3000,"n":0},
{"panel":"a2","group":"Low","time":0,"n":46},{"panel":"a2","group":"Low","time":1000,"n":36},{"panel":"a2","group":"Low","time":2000,"n":14},{"panel":"a2","group":"Low","time":3000,"n":1},
{"panel":"a3","group":"High","time":0,"n":47},{"panel":"a3","group":"High","time":1000,"n":35},{"panel":"a3","group":"High","time":2000,"n":17},{"panel":"a3","group":"High","time":3000,"n":1},
{"panel":"a3","group":"Low","time":0,"n":46},{"panel":"a3","group":"Low","time":1000,"n":28},{"panel":"a3","group":"Low","time":2000,"n":13},{"panel":"a3","group":"Low","time":3000,"n":0},
{"panel":"a4","group":"High","time":0,"n":44},{"panel":"a4","group":"High","time":1000,"n":25},{"panel":"a4","group":"High","time":2000,"n":15},{"panel":"a4","group":"High","time":3000,"n":1},
{"panel":"a4","group":"Low","time":0,"n":49},{"panel":"a4","group":"Low","time":1000,"n":38},{"panel":"a4","group":"Low","time":2000,"n":15},{"panel":"a4","group":"Low","time":3000,"n":0},
{"panel":"b1","group":"High","time":0,"n":26},{"panel":"b1","group":"High","time":1000,"n":16},{"panel":"b1","group":"High","time":2000,"n":11},{"panel":"b1","group":"High","time":3000,"n":1},
{"panel":"b1","group":"Low","time":0,"n":25},{"panel":"b1","group":"Low","time":1000,"n":13},{"panel":"b1","group":"Low","time":2000,"n":7},{"panel":"b1","group":"Low","time":3000,"n":0},
{"panel":"b2","group":"High","time":0,"n":26},{"panel":"b2","group":"High","time":1000,"n":13},{"panel":"b2","group":"High","time":2000,"n":10},{"panel":"b2","group":"High","time":3000,"n":0},
{"panel":"b2","group":"Low","time":0,"n":25},{"panel":"b2","group":"Low","time":1000,"n":16},{"panel":"b2","group":"Low","time":2000,"n":8},{"panel":"b2","group":"Low","time":3000,"n":1},
{"panel":"b3","group":"High","time":0,"n":26},{"panel":"b3","group":"High","time":1000,"n":18},{"panel":"b3","group":"High","time":2000,"n":10},{"panel":"b3","group":"High","time":3000,"n":0},
{"panel":"b3","group":"Low","time":0,"n":25},{"panel":"b3","group":"Low","time":1000,"n":11},{"panel":"b3","group":"Low","time":2000,"n":8},{"panel":"b3","group":"Low","time":3000,"n":1},
{"panel":"b4","group":"High","time":0,"n":25},{"panel":"b4","group":"High","time":1000,"n":13},{"panel":"b4","group":"High","time":2000,"n":8},{"panel":"b4","group":"High","time":3000,"n":0},
{"panel":"b4","group":"Low","time":0,"n":26},{"panel":"b4","group":"Low","time":1000,"n":16},{"panel":"b4","group":"Low","time":2000,"n":10},{"panel":"b4","group":"Low","time":3000,"n":1}
]
},
"spacing": 77,
"resolve": {"scale": {"color": "independent", "strokeDash": "independent"}, "legend": {"color": "independent", "strokeDash": "independent"}},
"vconcat": [
{
"title": {"text": "All NMIBC samples", "subtitle": "━━━━━━━━━━━━━━━━━━━━━━━", "anchor": "start", "frame": "bounds", "dx": 55, "font": "Lato", "fontSize": 26.5, "fontWeight": "normal", "color": "black", "subtitleFont": "DejaVu Sans Mono", "subtitleFontSize": 16, "subtitleColor": "black", "subtitlePadding": -5, "offset": 54},
"spacing": 98,
"resolve": {"scale": {"color": "independent", "strokeDash": "independent"}, "legend": {"color": "independent", "strokeDash": "independent"}},
"hconcat": [
{"spacing": 14, "resolve": {"scale": {"color": "independent", "strokeDash": "independent"}, "legend": {"color": "independent", "strokeDash": "independent"}}, "vconcat": [
{"width": 357, "height": 194,
"layer": [
{"data": {"name": "steps"}, "transform": [{"filter": "datum.panel === 'a1'"}], "mark": {"type": "line", "interpolate": "step-after", "strokeWidth": 2.3},
"encoding": {"x": {"field": "time", "type": "quantitative", "scale": {"domain": [-195, 3670], "nice": false, "zero": false}, "axis": {"values": [0, 1000, 2000, 3000], "format": "d", "title": "Time (in days)"}},
"y": {"field": "surv", "type": "quantitative", "scale": {"domain": [-0.05, 1.05], "nice": false, "zero": false}, "axis": {"values": [0, 0.25, 0.5, 0.75, 1], "format": ".2f", "title": "Survival probability"}},
"color": {"field": "group", "type": "nominal", "scale": {"domain": ["High", "Low"], "range": ["#E7B800", "#2E9FDF"]}, "legend": {"title": "TMB", "orient": "none", "legendX": 40, "legendY": -48.5, "direction": "horizontal", "titleOrient": "left", "titleBaseline": "middle", "titlePadding": 43, "symbolType": "M-1,0H1M0,-0.5V0.5", "symbolSize": 400, "symbolStrokeWidth": 2.3}},
"strokeDash": {"field": "group", "type": "nominal", "scale": {"domain": ["High", "Low"], "range": [[1, 0], [8, 5]]}, "legend": {"title": "TMB", "orient": "none", "legendX": 40, "legendY": -48.5, "direction": "horizontal", "titleOrient": "left", "titleBaseline": "middle", "titlePadding": 43, "symbolType": "M-1,0H1M0,-0.5V0.5", "symbolSize": 400, "symbolStrokeWidth": 2.3}}}},
{"data": {"name": "censors"}, "transform": [{"filter": "datum.panel === 'a1'"}], "mark": {"type": "point", "shape": "M-1,0H1M0,-1V1", "size": 100, "filled": false, "strokeWidth": 2, "opacity": 1},
"encoding": {"x": {"field": "time", "type": "quantitative", "scale": {"domain": [-195, 3670], "nice": false, "zero": false}, "axis": {"values": [0, 1000, 2000, 3000], "format": "d", "title": "Time (in days)"}},
"y": {"field": "surv", "type": "quantitative", "scale": {"domain": [-0.05, 1.05], "nice": false, "zero": false}, "axis": {"values": [0, 0.25, 0.5, 0.75, 1], "format": ".2f", "title": "Survival probability"}},
"color": {"field": "group", "type": "nominal", "scale": {"domain": ["High", "Low"], "range": ["#E7B800", "#2E9FDF"]}, "legend": {"title": "TMB", "orient": "none", "legendX": 40, "legendY": -48.5, "direction": "horizontal", "titleOrient": "left", "titleBaseline": "middle", "titlePadding": 43, "symbolType": "M-1,0H1M0,-0.5V0.5", "symbolSize": 400, "symbolStrokeWidth": 2.3}}}},
{"data": {"name": "stats"}, "transform": [{"filter": "datum.panel === 'a1'"}], "mark": {"type": "text", "align": "left", "baseline": "middle", "font": "DejaVu Sans Mono", "fontSize": 14, "color": "black"}, "encoding": {"x": {"datum": 0, "type": "quantitative"}, "y": {"datum": 0.25, "type": "quantitative"}, "text": {"field": "padj", "type": "nominal"}}},
{"data": {"name": "stats"}, "transform": [{"filter": "datum.panel === 'a1'"}], "mark": {"type": "text", "align": "left", "baseline": "middle", "fontSize": 14.2, "color": "black"}, "encoding": {"x": {"datum": -15, "type": "quantitative"}, "y": {"datum": 0.095, "type": "quantitative"}, "text": {"field": "lr", "type": "nominal"}}}
]},
{"width": 357, "height": 56, "title": {"text": "Number at risk", "anchor": "start", "frame": "group", "fontSize": 21, "fontWeight": "normal", "offset": 8, "color": "black"},
"data": {"name": "risk"}, "transform": [{"filter": "datum.panel === 'a1'"}], "mark": {"type": "text", "fontSize": 16, "baseline": "middle", "color": "black"},
"encoding": {"x": {"field": "time", "type": "quantitative", "scale": {"domain": [-195, 3670], "nice": false, "zero": false}, "axis": {"values": [0, 1000, 2000, 3000], "format": "d", "title": "Time (in days)"}},
"y": {"field": "group", "type": "nominal", "scale": {"type": "point", "domain": ["High", "Low"], "padding": 0.577}, "axis": {"title": " ", "labelFontSize": 14.5, "labelColor": {"condition": {"test": "datum.value === 'High'", "value": "#E7B800"}, "value": "#2E9FDF"}}},
"text": {"field": "n", "type": "quantitative"}}}
]},
{"spacing": 97, "resolve": {"scale": {"color": "independent", "strokeDash": "independent"}, "legend": {"color": "independent", "strokeDash": "independent"}}, "hconcat": [
{"spacing": 14, "resolve": {"scale": {"color": "independent", "strokeDash": "independent"}, "legend": {"color": "independent", "strokeDash": "independent"}}, "vconcat": [
{"width": 357, "height": 194,
"layer": [
{"data": {"name": "steps"}, "transform": [{"filter": "datum.panel === 'a2'"}], "mark": {"type": "line", "interpolate": "step-after", "strokeWidth": 2.3},
"encoding": {"x": {"field": "time", "type": "quantitative", "scale": {"domain": [-195, 3670], "nice": false, "zero": false}, "axis": {"values": [0, 1000, 2000, 3000], "format": "d", "title": "Time (in days)"}},
"y": {"field": "surv", "type": "quantitative", "scale": {"domain": [-0.05, 1.05], "nice": false, "zero": false}, "axis": {"values": [0, 0.25, 0.5, 0.75, 1], "format": ".2f", "title": "Survival probability"}},
"color": {"field": "group", "type": "nominal", "scale": {"domain": ["High", "Low"], "range": ["#E7B800", "#2E9FDF"]}, "legend": {"title": "CNB", "orient": "none", "legendX": 56, "legendY": -48.5, "direction": "horizontal", "titleOrient": "left", "titleBaseline": "middle", "titlePadding": 25, "symbolType": "M-1,0H1M0,-0.5V0.5", "symbolSize": 400, "symbolStrokeWidth": 2.3}},
"strokeDash": {"field": "group", "type": "nominal", "scale": {"domain": ["High", "Low"], "range": [[1, 0], [8, 5]]}, "legend": {"title": "CNB", "orient": "none", "legendX": 56, "legendY": -48.5, "direction": "horizontal", "titleOrient": "left", "titleBaseline": "middle", "titlePadding": 25, "symbolType": "M-1,0H1M0,-0.5V0.5", "symbolSize": 400, "symbolStrokeWidth": 2.3}}}},
{"data": {"name": "censors"}, "transform": [{"filter": "datum.panel === 'a2'"}], "mark": {"type": "point", "shape": "M-1,0H1M0,-1V1", "size": 100, "filled": false, "strokeWidth": 2, "opacity": 1},
"encoding": {"x": {"field": "time", "type": "quantitative", "scale": {"domain": [-195, 3670], "nice": false, "zero": false}, "axis": {"values": [0, 1000, 2000, 3000], "format": "d", "title": "Time (in days)"}},
"y": {"field": "surv", "type": "quantitative", "scale": {"domain": [-0.05, 1.05], "nice": false, "zero": false}, "axis": {"values": [0, 0.25, 0.5, 0.75, 1], "format": ".2f", "title": "Survival probability"}},
"color": {"field": "group", "type": "nominal", "scale": {"domain": ["High", "Low"], "range": ["#E7B800", "#2E9FDF"]}, "legend": {"title": "CNB", "orient": "none", "legendX": 56, "legendY": -48.5, "direction": "horizontal", "titleOrient": "left", "titleBaseline": "middle", "titlePadding": 25, "symbolType": "M-1,0H1M0,-0.5V0.5", "symbolSize": 400, "symbolStrokeWidth": 2.3}}}},
{"data": {"name": "stats"}, "transform": [{"filter": "datum.panel === 'a2'"}], "mark": {"type": "text", "align": "left", "baseline": "middle", "font": "DejaVu Sans Mono", "fontSize": 14, "color": "black"}, "encoding": {"x": {"datum": 0, "type": "quantitative"}, "y": {"datum": 0.25, "type": "quantitative"}, "text": {"field": "padj", "type": "nominal"}}},
{"data": {"name": "stats"}, "transform": [{"filter": "datum.panel === 'a2'"}], "mark": {"type": "text", "align": "left", "baseline": "middle", "fontSize": 14.2, "color": "black"}, "encoding": {"x": {"datum": -15, "type": "quantitative"}, "y": {"datum": 0.095, "type": "quantitative"}, "text": {"field": "lr", "type": "nominal"}}}
]},
{"width": 357, "height": 56, "title": {"text": "Number at risk", "anchor": "start", "frame": "group", "fontSize": 21, "fontWeight": "normal", "offset": 8, "color": "black"},
"data": {"name": "risk"}, "transform": [{"filter": "datum.panel === 'a2'"}], "mark": {"type": "text", "fontSize": 16, "baseline": "middle", "color": "black"},
"encoding": {"x": {"field": "time", "type": "quantitative", "scale": {"domain": [-195, 3670], "nice": false, "zero": false}, "axis": {"values": [0, 1000, 2000, 3000], "format": "d", "title": "Time (in days)"}},
"y": {"field": "group", "type": "nominal", "scale": {"type": "point", "domain": ["High", "Low"], "padding": 0.577}, "axis": {"title": " ", "labelFontSize": 14.5, "labelColor": {"condition": {"test": "datum.value === 'High'", "value": "#E7B800"}, "value": "#2E9FDF"}}},
"text": {"field": "n", "type": "quantitative"}}}
]},
{"spacing": 77, "resolve": {"scale": {"color": "independent", "strokeDash": "independent"}, "legend": {"color": "independent", "strokeDash": "independent"}}, "hconcat": [
{"spacing": 14, "resolve": {"scale": {"color": "independent", "strokeDash": "independent"}, "legend": {"color": "independent", "strokeDash": "independent"}}, "vconcat": [
{"width": 357, "height": 194,
"layer": [
{"data": {"name": "steps"}, "transform": [{"filter": "datum.panel === 'a3'"}], "mark": {"type": "line", "interpolate": "step-after", "strokeWidth": 2.3},
"encoding": {"x": {"field": "time", "type": "quantitative", "scale": {"domain": [-195, 3670], "nice": false, "zero": false}, "axis": {"values": [0, 1000, 2000, 3000], "format": "d", "title": "Time (in days)"}},
"y": {"field": "surv", "type": "quantitative", "scale": {"domain": [-0.05, 1.05], "nice": false, "zero": false}, "axis": {"values": [0, 0.25, 0.5, 0.75, 1], "format": ".2f", "title": "Survival probability"}},
"color": {"field": "group", "type": "nominal", "scale": {"domain": ["High", "Low"], "range": ["#E7B800", "#2E9FDF"]}, "legend": {"title": ["APOBEC", "Enrichment"], "titleAlign": "center", "titleLineHeight": 26, "orient": "none", "legendX": 1, "legendY": -50, "direction": "horizontal", "titleOrient": "left", "titlePadding": -25, "symbolType": "M-1,0H1M0,-0.5V0.5", "symbolSize": 400, "symbolStrokeWidth": 2.3}},
"strokeDash": {"field": "group", "type": "nominal", "scale": {"domain": ["High", "Low"], "range": [[1, 0], [8, 5]]}, "legend": {"title": ["APOBEC", "Enrichment"], "titleAlign": "center", "titleLineHeight": 26, "orient": "none", "legendX": 1, "legendY": -50, "direction": "horizontal", "titleOrient": "left", "titlePadding": -25, "symbolType": "M-1,0H1M0,-0.5V0.5", "symbolSize": 400, "symbolStrokeWidth": 2.3}}}},
{"data": {"name": "censors"}, "transform": [{"filter": "datum.panel === 'a3'"}], "mark": {"type": "point", "shape": "M-1,0H1M0,-1V1", "size": 100, "filled": false, "strokeWidth": 2, "opacity": 1},
"encoding": {"x": {"field": "time", "type": "quantitative", "scale": {"domain": [-195, 3670], "nice": false, "zero": false}, "axis": {"values": [0, 1000, 2000, 3000], "format": "d", "title": "Time (in days)"}},
"y": {"field": "surv", "type": "quantitative", "scale": {"domain": [-0.05, 1.05], "nice": false, "zero": false}, "axis": {"values": [0, 0.25, 0.5, 0.75, 1], "format": ".2f", "title": "Survival probability"}},
"color": {"field": "group", "type": "nominal", "scale": {"domain": ["High", "Low"], "range": ["#E7B800", "#2E9FDF"]}, "legend": {"title": ["APOBEC", "Enrichment"], "titleAlign": "center", "titleLineHeight": 26, "orient": "none", "legendX": 1, "legendY": -50, "direction": "horizontal", "titleOrient": "left", "titlePadding": -25, "symbolType": "M-1,0H1M0,-0.5V0.5", "symbolSize": 400, "symbolStrokeWidth": 2.3}}}},
{"data": {"name": "stats"}, "transform": [{"filter": "datum.panel === 'a3'"}], "mark": {"type": "text", "align": "left", "baseline": "middle", "font": "DejaVu Sans Mono", "fontSize": 14, "color": "black"}, "encoding": {"x": {"datum": 5, "type": "quantitative"}, "y": {"datum": 0.25, "type": "quantitative"}, "text": {"field": "padj", "type": "nominal"}}},
{"data": {"name": "stats"}, "transform": [{"filter": "datum.panel === 'a3'"}], "mark": {"type": "text", "align": "left", "baseline": "middle", "fontSize": 14.2, "color": "black"}, "encoding": {"x": {"datum": -15, "type": "quantitative"}, "y": {"datum": 0.095, "type": "quantitative"}, "text": {"field": "lr", "type": "nominal"}}}
]},
{"width": 357, "height": 56, "title": {"text": "Number at risk", "anchor": "start", "frame": "group", "fontSize": 21, "fontWeight": "normal", "offset": 8, "color": "black"},
"data": {"name": "risk"}, "transform": [{"filter": "datum.panel === 'a3'"}], "mark": {"type": "text", "fontSize": 16, "baseline": "middle", "color": "black"},
"encoding": {"x": {"field": "time", "type": "quantitative", "scale": {"domain": [-195, 3670], "nice": false, "zero": false}, "axis": {"values": [0, 1000, 2000, 3000], "format": "d", "title": "Time (in days)"}},
"y": {"field": "group", "type": "nominal", "scale": {"type": "point", "domain": ["High", "Low"], "padding": 0.577}, "axis": {"title": " ", "labelFontSize": 14.5, "labelColor": {"condition": {"test": "datum.value === 'High'", "value": "#E7B800"}, "value": "#2E9FDF"}}},
"text": {"field": "n", "type": "quantitative"}}}
]},
{"spacing": 14, "resolve": {"scale": {"color": "independent", "strokeDash": "independent"}, "legend": {"color": "independent", "strokeDash": "independent"}}, "vconcat": [
{"width": 357, "height": 194,
"layer": [
{"data": {"name": "steps"}, "transform": [{"filter": "datum.panel === 'a4'"}], "mark": {"type": "line", "interpolate": "step-after", "strokeWidth": 2.3},
"encoding": {"x": {"field": "time", "type": "quantitative", "scale": {"domain": [-195, 3670], "nice": false, "zero": false}, "axis": {"values": [0, 1000, 2000, 3000], "format": "d", "title": "Time (in days)"}},
"y": {"field": "surv", "type": "quantitative", "scale": {"domain": [-0.05, 1.05], "nice": false, "zero": false}, "axis": {"values": [0, 0.25, 0.5, 0.75, 1], "format": ".2f", "title": "Survival probability"}},
"color": {"field": "group", "type": "nominal", "scale": {"domain": ["High", "Low"], "range": ["#E7B800", "#2E9FDF"]}, "legend": {"title": "HRD", "orient": "none", "legendX": 50, "legendY": -48.5, "direction": "horizontal", "titleOrient": "left", "titleBaseline": "middle", "titlePadding": 30, "symbolType": "M-1,0H1M0,-0.5V0.5", "symbolSize": 400, "symbolStrokeWidth": 2.3}},
"strokeDash": {"field": "group", "type": "nominal", "scale": {"domain": ["High", "Low"], "range": [[1, 0], [8, 5]]}, "legend": {"title": "HRD", "orient": "none", "legendX": 50, "legendY": -48.5, "direction": "horizontal", "titleOrient": "left", "titleBaseline": "middle", "titlePadding": 30, "symbolType": "M-1,0H1M0,-0.5V0.5", "symbolSize": 400, "symbolStrokeWidth": 2.3}}}},
{"data": {"name": "censors"}, "transform": [{"filter": "datum.panel === 'a4'"}], "mark": {"type": "point", "shape": "M-1,0H1M0,-1V1", "size": 100, "filled": false, "strokeWidth": 2, "opacity": 1},
"encoding": {"x": {"field": "time", "type": "quantitative", "scale": {"domain": [-195, 3670], "nice": false, "zero": false}, "axis": {"values": [0, 1000, 2000, 3000], "format": "d", "title": "Time (in days)"}},
"y": {"field": "surv", "type": "quantitative", "scale": {"domain": [-0.05, 1.05], "nice": false, "zero": false}, "axis": {"values": [0, 0.25, 0.5, 0.75, 1], "format": ".2f", "title": "Survival probability"}},
"color": {"field": "group", "type": "nominal", "scale": {"domain": ["High", "Low"], "range": ["#E7B800", "#2E9FDF"]}, "legend": {"title": "HRD", "orient": "none", "legendX": 50, "legendY": -48.5, "direction": "horizontal", "titleOrient": "left", "titleBaseline": "middle", "titlePadding": 30, "symbolType": "M-1,0H1M0,-0.5V0.5", "symbolSize": 400, "symbolStrokeWidth": 2.3}}}},
{"data": {"name": "stats"}, "transform": [{"filter": "datum.panel === 'a4'"}], "mark": {"type": "text", "align": "left", "baseline": "middle", "font": "DejaVu Sans Mono", "fontSize": 14, "color": "black"}, "encoding": {"x": {"datum": 0, "type": "quantitative"}, "y": {"datum": 0.25, "type": "quantitative"}, "text": {"field": "padj", "type": "nominal"}}},
{"data": {"name": "stats"}, "transform": [{"filter": "datum.panel === 'a4'"}], "mark": {"type": "text", "align": "left", "baseline": "middle", "fontSize": 14.2, "color": "black"}, "encoding": {"x": {"datum": -15, "type": "quantitative"}, "y": {"datum": 0.095, "type": "quantitative"}, "text": {"field": "lr", "type": "nominal"}}}
]},
{"width": 357, "height": 56, "title": {"text": "Number at risk", "anchor": "start", "frame": "group", "fontSize": 21, "fontWeight": "normal", "offset": 8, "color": "black"},
"data": {"name": "risk"}, "transform": [{"filter": "datum.panel === 'a4'"}], "mark": {"type": "text", "fontSize": 16, "baseline": "middle", "color": "black"},
"encoding": {"x": {"field": "time", "type": "quantitative", "scale": {"domain": [-195, 3670], "nice": false, "zero": false}, "axis": {"values": [0, 1000, 2000, 3000], "format": "d", "title": "Time (in days)"}},
"y": {"field": "group", "type": "nominal", "scale": {"type": "point", "domain": ["High", "Low"], "padding": 0.577}, "axis": {"title": " ", "labelFontSize": 14.5, "labelColor": {"condition": {"test": "datum.value === 'High'", "value": "#E7B800"}, "value": "#2E9FDF"}}},
"text": {"field": "n", "type": "quantitative"}}}
]}
]}
]}
]
},
{
"title": {"text": "G3pT1 samples", "subtitle": "━━━━━━━━━━━━━━━━━━━", "anchor": "start", "frame": "bounds", "dx": 56, "font": "Lato", "fontSize": 26.5, "fontWeight": "normal", "color": "black", "subtitleFont": "DejaVu Sans Mono", "subtitleFontSize": 16, "subtitleColor": "black", "subtitlePadding": -5, "offset": 58},
"spacing": 98,
"resolve": {"scale": {"color": "independent", "strokeDash": "independent"}, "legend": {"color": "independent", "strokeDash": "independent"}},
"hconcat": [
{"spacing": 14, "resolve": {"scale": {"color": "independent", "strokeDash": "independent"}, "legend": {"color": "independent", "strokeDash": "independent"}}, "vconcat": [
{"width": 357, "height": 194,
"layer": [
{"data": {"name": "steps"}, "transform": [{"filter": "datum.panel === 'b1'"}], "mark": {"type": "line", "interpolate": "step-after", "strokeWidth": 2.3},
"encoding": {"x": {"field": "time", "type": "quantitative", "scale": {"domain": [-195, 3670], "nice": false, "zero": false}, "axis": {"values": [0, 1000, 2000, 3000], "format": "d", "title": "Time (in days)"}},
"y": {"field": "surv", "type": "quantitative", "scale": {"domain": [-0.05, 1.05], "nice": false, "zero": false}, "axis": {"values": [0, 0.25, 0.5, 0.75, 1], "format": ".2f", "title": "Survival probability"}},
"color": {"field": "group", "type": "nominal", "scale": {"domain": ["High", "Low"], "range": ["#E7B800", "#2E9FDF"]}, "legend": {"title": "TMB", "orient": "none", "legendX": 34, "legendY": -47.5, "direction": "horizontal", "titleOrient": "left", "titleBaseline": "middle", "titlePadding": 47, "symbolType": "M-1,0H1M0,-0.5V0.5", "symbolSize": 400, "symbolStrokeWidth": 2.3}},
"strokeDash": {"field": "group", "type": "nominal", "scale": {"domain": ["High", "Low"], "range": [[1, 0], [8, 5]]}, "legend": {"title": "TMB", "orient": "none", "legendX": 34, "legendY": -47.5, "direction": "horizontal", "titleOrient": "left", "titleBaseline": "middle", "titlePadding": 47, "symbolType": "M-1,0H1M0,-0.5V0.5", "symbolSize": 400, "symbolStrokeWidth": 2.3}}}},
{"data": {"name": "censors"}, "transform": [{"filter": "datum.panel === 'b1'"}], "mark": {"type": "point", "shape": "M-1,0H1M0,-1V1", "size": 100, "filled": false, "strokeWidth": 2, "opacity": 1},
"encoding": {"x": {"field": "time", "type": "quantitative", "scale": {"domain": [-195, 3670], "nice": false, "zero": false}, "axis": {"values": [0, 1000, 2000, 3000], "format": "d", "title": "Time (in days)"}},
"y": {"field": "surv", "type": "quantitative", "scale": {"domain": [-0.05, 1.05], "nice": false, "zero": false}, "axis": {"values": [0, 0.25, 0.5, 0.75, 1], "format": ".2f", "title": "Survival probability"}},
"color": {"field": "group", "type": "nominal", "scale": {"domain": ["High", "Low"], "range": ["#E7B800", "#2E9FDF"]}, "legend": {"title": "TMB", "orient": "none", "legendX": 34, "legendY": -47.5, "direction": "horizontal", "titleOrient": "left", "titleBaseline": "middle", "titlePadding": 47, "symbolType": "M-1,0H1M0,-0.5V0.5", "symbolSize": 400, "symbolStrokeWidth": 2.3}}}},
{"data": {"name": "stats"}, "transform": [{"filter": "datum.panel === 'b1'"}], "mark": {"type": "text", "align": "left", "baseline": "middle", "font": "DejaVu Sans Mono", "fontSize": 14, "color": "black"}, "encoding": {"x": {"datum": -25, "type": "quantitative"}, "y": {"datum": 0.23, "type": "quantitative"}, "text": {"field": "padj", "type": "nominal"}}},
{"data": {"name": "stats"}, "transform": [{"filter": "datum.panel === 'b1'"}], "mark": {"type": "text", "align": "left", "baseline": "middle", "fontSize": 14.2, "color": "black"}, "encoding": {"x": {"datum": -35, "type": "quantitative"}, "y": {"datum": 0.089, "type": "quantitative"}, "text": {"field": "lr", "type": "nominal"}}}
]},
{"width": 357, "height": 56, "title": {"text": "Number at risk", "anchor": "start", "frame": "group", "fontSize": 21, "fontWeight": "normal", "offset": 8, "color": "black"},
"data": {"name": "risk"}, "transform": [{"filter": "datum.panel === 'b1'"}], "mark": {"type": "text", "fontSize": 16, "baseline": "middle", "color": "black"},
"encoding": {"x": {"field": "time", "type": "quantitative", "scale": {"domain": [-195, 3670], "nice": false, "zero": false}, "axis": {"values": [0, 1000, 2000, 3000], "format": "d", "title": "Time (in days)"}},
"y": {"field": "group", "type": "nominal", "scale": {"type": "point", "domain": ["High", "Low"], "padding": 0.577}, "axis": {"title": " ", "labelFontSize": 14.5, "labelColor": {"condition": {"test": "datum.value === 'High'", "value": "#E7B800"}, "value": "#2E9FDF"}}},
"text": {"field": "n", "type": "quantitative"}}}
]},
{"spacing": 107, "resolve": {"scale": {"color": "independent", "strokeDash": "independent"}, "legend": {"color": "independent", "strokeDash": "independent"}}, "hconcat": [
{"spacing": 14, "resolve": {"scale": {"color": "independent", "strokeDash": "independent"}, "legend": {"color": "independent", "strokeDash": "independent"}}, "vconcat": [
{"width": 357, "height": 194,
"layer": [
{"data": {"name": "steps"}, "transform": [{"filter": "datum.panel === 'b2'"}], "mark": {"type": "line", "interpolate": "step-after", "strokeWidth": 2.3},
"encoding": {"x": {"field": "time", "type": "quantitative", "scale": {"domain": [-195, 3670], "nice": false, "zero": false}, "axis": {"values": [0, 1000, 2000, 3000], "format": "d", "title": "Time (in days)"}},
"y": {"field": "surv", "type": "quantitative", "scale": {"domain": [-0.05, 1.05], "nice": false, "zero": false}, "axis": {"values": [0, 0.25, 0.5, 0.75, 1], "format": ".2f", "title": "Survival probability"}},
"color": {"field": "group", "type": "nominal", "scale": {"domain": ["High", "Low"], "range": ["#E7B800", "#2E9FDF"]}, "legend": {"title": "CNB", "orient": "none", "legendX": 41, "legendY": -47.5, "direction": "horizontal", "titleOrient": "left", "titleBaseline": "middle", "titlePadding": 39.5, "symbolType": "M-1,0H1M0,-0.5V0.5", "symbolSize": 400, "symbolStrokeWidth": 2.3}},
"strokeDash": {"field": "group", "type": "nominal", "scale": {"domain": ["High", "Low"], "range": [[1, 0], [8, 5]]}, "legend": {"title": "CNB", "orient": "none", "legendX": 41, "legendY": -47.5, "direction": "horizontal", "titleOrient": "left", "titleBaseline": "middle", "titlePadding": 39.5, "symbolType": "M-1,0H1M0,-0.5V0.5", "symbolSize": 400, "symbolStrokeWidth": 2.3}}}},
{"data": {"name": "censors"}, "transform": [{"filter": "datum.panel === 'b2'"}], "mark": {"type": "point", "shape": "M-1,0H1M0,-1V1", "size": 100, "filled": false, "strokeWidth": 2, "opacity": 1},
"encoding": {"x": {"field": "time", "type": "quantitative", "scale": {"domain": [-195, 3670], "nice": false, "zero": false}, "axis": {"values": [0, 1000, 2000, 3000], "format": "d", "title": "Time (in days)"}},
"y": {"field": "surv", "type": "quantitative", "scale": {"domain": [-0.05, 1.05], "nice": false, "zero": false}, "axis": {"values": [0, 0.25, 0.5, 0.75, 1], "format": ".2f", "title": "Survival probability"}},
"color": {"field": "group", "type": "nominal", "scale": {"domain": ["High", "Low"], "range": ["#E7B800", "#2E9FDF"]}, "legend": {"title": "CNB", "orient": "none", "legendX": 41, "legendY": -47.5, "direction": "horizontal", "titleOrient": "left", "titleBaseline": "middle", "titlePadding": 39.5, "symbolType": "M-1,0H1M0,-0.5V0.5", "symbolSize": 400, "symbolStrokeWidth": 2.3}}}},
{"data": {"name": "stats"}, "transform": [{"filter": "datum.panel === 'b2'"}], "mark": {"type": "text", "align": "left", "baseline": "middle", "font": "DejaVu Sans Mono", "fontSize": 14, "color": "black"}, "encoding": {"x": {"datum": 0, "type": "quantitative"}, "y": {"datum": 0.265, "type": "quantitative"}, "text": {"field": "padj", "type": "nominal"}}},
{"data": {"name": "stats"}, "transform": [{"filter": "datum.panel === 'b2'"}], "mark": {"type": "text", "align": "left", "baseline": "middle", "fontSize": 14.2, "color": "black"}, "encoding": {"x": {"datum": -22, "type": "quantitative"}, "y": {"datum": 0.09, "type": "quantitative"}, "text": {"field": "lr", "type": "nominal"}}}
]},
{"width": 357, "height": 56, "title": {"text": "Number at risk", "anchor": "start", "frame": "group", "fontSize": 21, "fontWeight": "normal", "offset": 8, "color": "black"},
"data": {"name": "risk"}, "transform": [{"filter": "datum.panel === 'b2'"}], "mark": {"type": "text", "fontSize": 16, "baseline": "middle", "color": "black"},
"encoding": {"x": {"field": "time", "type": "quantitative", "scale": {"domain": [-195, 3670], "nice": false, "zero": false}, "axis": {"values": [0, 1000, 2000, 3000], "format": "d", "title": "Time (in days)"}},
"y": {"field": "group", "type": "nominal", "scale": {"type": "point", "domain": ["High", "Low"], "padding": 0.577}, "axis": {"title": " ", "labelFontSize": 14.5, "labelColor": {"condition": {"test": "datum.value === 'High'", "value": "#E7B800"}, "value": "#2E9FDF"}}},
"text": {"field": "n", "type": "quantitative"}}}
]},
{"spacing": 65, "resolve": {"scale": {"color": "independent", "strokeDash": "independent"}, "legend": {"color": "independent", "strokeDash": "independent"}}, "hconcat": [
{"spacing": 14, "resolve": {"scale": {"color": "independent", "strokeDash": "independent"}, "legend": {"color": "independent", "strokeDash": "independent"}}, "vconcat": [
{"width": 357, "height": 194,
"layer": [
{"data": {"name": "steps"}, "transform": [{"filter": "datum.panel === 'b3'"}], "mark": {"type": "line", "interpolate": "step-after", "strokeWidth": 2.3},
"encoding": {"x": {"field": "time", "type": "quantitative", "scale": {"domain": [-195, 3670], "nice": false, "zero": false}, "axis": {"values": [0, 1000, 2000, 3000], "format": "d", "title": "Time (in days)"}},
"y": {"field": "surv", "type": "quantitative", "scale": {"domain": [-0.05, 1.05], "nice": false, "zero": false}, "axis": {"values": [0, 0.25, 0.5, 0.75, 1], "format": ".2f", "title": "Survival probability"}},
"color": {"field": "group", "type": "nominal", "scale": {"domain": ["High", "Low"], "range": ["#E7B800", "#2E9FDF"]}, "legend": {"title": ["APOBEC", "Enrichment"], "titleAlign": "center", "titleLineHeight": 26, "orient": "none", "legendX": 5, "legendY": -52, "direction": "horizontal", "titleOrient": "left", "titlePadding": -30, "symbolType": "M-1,0H1M0,-0.5V0.5", "symbolSize": 400, "symbolStrokeWidth": 2.3}},
"strokeDash": {"field": "group", "type": "nominal", "scale": {"domain": ["High", "Low"], "range": [[1, 0], [8, 5]]}, "legend": {"title": ["APOBEC", "Enrichment"], "titleAlign": "center", "titleLineHeight": 26, "orient": "none", "legendX": 5, "legendY": -52, "direction": "horizontal", "titleOrient": "left", "titlePadding": -30, "symbolType": "M-1,0H1M0,-0.5V0.5", "symbolSize": 400, "symbolStrokeWidth": 2.3}}}},
{"data": {"name": "censors"}, "transform": [{"filter": "datum.panel === 'b3'"}], "mark": {"type": "point", "shape": "M-1,0H1M0,-1V1", "size": 100, "filled": false, "strokeWidth": 2, "opacity": 1},
"encoding": {"x": {"field": "time", "type": "quantitative", "scale": {"domain": [-195, 3670], "nice": false, "zero": false}, "axis": {"values": [0, 1000, 2000, 3000], "format": "d", "title": "Time (in days)"}},
"y": {"field": "surv", "type": "quantitative", "scale": {"domain": [-0.05, 1.05], "nice": false, "zero": false}, "axis": {"values": [0, 0.25, 0.5, 0.75, 1], "format": ".2f", "title": "Survival probability"}},
"color": {"field": "group", "type": "nominal", "scale": {"domain": ["High", "Low"], "range": ["#E7B800", "#2E9FDF"]}, "legend": {"title": ["APOBEC", "Enrichment"], "titleAlign": "center", "titleLineHeight": 26, "orient": "none", "legendX": 5, "legendY": -52, "direction": "horizontal", "titleOrient": "left", "titlePadding": -30, "symbolType": "M-1,0H1M0,-0.5V0.5", "symbolSize": 400, "symbolStrokeWidth": 2.3}}}},
{"data": {"name": "stats"}, "transform": [{"filter": "datum.panel === 'b3'"}], "mark": {"type": "text", "align": "left", "baseline": "middle", "font": "DejaVu Sans Mono", "fontSize": 14, "color": "black"}, "encoding": {"x": {"datum": 0, "type": "quantitative"}, "y": {"datum": 0.25, "type": "quantitative"}, "text": {"field": "padj", "type": "nominal"}}},
{"data": {"name": "stats"}, "transform": [{"filter": "datum.panel === 'b3'"}], "mark": {"type": "text", "align": "left", "baseline": "middle", "fontSize": 14.2, "color": "black"}, "encoding": {"x": {"datum": -20, "type": "quantitative"}, "y": {"datum": 0.093, "type": "quantitative"}, "text": {"field": "lr", "type": "nominal"}}}
]},
{"width": 357, "height": 56, "title": {"text": "Number at risk", "anchor": "start", "frame": "group", "fontSize": 21, "fontWeight": "normal", "offset": 8, "color": "black"},
"data": {"name": "risk"}, "transform": [{"filter": "datum.panel === 'b3'"}], "mark": {"type": "text", "fontSize": 16, "baseline": "middle", "color": "black"},
"encoding": {"x": {"field": "time", "type": "quantitative", "scale": {"domain": [-195, 3670], "nice": false, "zero": false}, "axis": {"values": [0, 1000, 2000, 3000], "format": "d", "title": "Time (in days)"}},
"y": {"field": "group", "type": "nominal", "scale": {"type": "point", "domain": ["High", "Low"], "padding": 0.577}, "axis": {"title": " ", "labelFontSize": 14.5, "labelColor": {"condition": {"test": "datum.value === 'High'", "value": "#E7B800"}, "value": "#2E9FDF"}}},
"text": {"field": "n", "type": "quantitative"}}}
]},
{"spacing": 14, "resolve": {"scale": {"color": "independent", "strokeDash": "independent"}, "legend": {"color": "independent", "strokeDash": "independent"}}, "vconcat": [
{"width": 357, "height": 194,
"layer": [
{"data": {"name": "steps"}, "transform": [{"filter": "datum.panel === 'b4'"}], "mark": {"type": "line", "interpolate": "step-after", "strokeWidth": 2.3},
"encoding": {"x": {"field": "time", "type": "quantitative", "scale": {"domain": [-195, 3670], "nice": false, "zero": false}, "axis": {"values": [0, 1000, 2000, 3000], "format": "d", "title": "Time (in days)"}},
"y": {"field": "surv", "type": "quantitative", "scale": {"domain": [-0.05, 1.05], "nice": false, "zero": false}, "axis": {"values": [0, 0.25, 0.5, 0.75, 1], "format": ".2f", "title": "Survival probability"}},
"color": {"field": "group", "type": "nominal", "scale": {"domain": ["High", "Low"], "range": ["#E7B800", "#2E9FDF"]}, "legend": {"title": "HRD", "orient": "none", "legendX": 24, "legendY": -47.5, "direction": "horizontal", "titleOrient": "left", "titleBaseline": "middle", "titlePadding": 55, "symbolType": "M-1,0H1M0,-0.5V0.5", "symbolSize": 400, "symbolStrokeWidth": 2.3}},
"strokeDash": {"field": "group", "type": "nominal", "scale": {"domain": ["High", "Low"], "range": [[1, 0], [8, 5]]}, "legend": {"title": "HRD", "orient": "none", "legendX": 24, "legendY": -47.5, "direction": "horizontal", "titleOrient": "left", "titleBaseline": "middle", "titlePadding": 55, "symbolType": "M-1,0H1M0,-0.5V0.5", "symbolSize": 400, "symbolStrokeWidth": 2.3}}}},
{"data": {"name": "censors"}, "transform": [{"filter": "datum.panel === 'b4'"}], "mark": {"type": "point", "shape": "M-1,0H1M0,-1V1", "size": 100, "filled": false, "strokeWidth": 2, "opacity": 1},
"encoding": {"x": {"field": "time", "type": "quantitative", "scale": {"domain": [-195, 3670], "nice": false, "zero": false}, "axis": {"values": [0, 1000, 2000, 3000], "format": "d", "title": "Time (in days)"}},
"y": {"field": "surv", "type": "quantitative", "scale": {"domain": [-0.05, 1.05], "nice": false, "zero": false}, "axis": {"values": [0, 0.25, 0.5, 0.75, 1], "format": ".2f", "title": "Survival probability"}},
"color": {"field": "group", "type": "nominal", "scale": {"domain": ["High", "Low"], "range": ["#E7B800", "#2E9FDF"]}, "legend": {"title": "HRD", "orient": "none", "legendX": 24, "legendY": -47.5, "direction": "horizontal", "titleOrient": "left", "titleBaseline": "middle", "titlePadding": 55, "symbolType": "M-1,0H1M0,-0.5V0.5", "symbolSize": 400, "symbolStrokeWidth": 2.3}}}},
{"data": {"name": "stats"}, "transform": [{"filter": "datum.panel === 'b4'"}], "mark": {"type": "text", "align": "left", "baseline": "middle", "font": "DejaVu Sans Mono", "fontSize": 14, "color": "black"}, "encoding": {"x": {"datum": 0, "type": "quantitative"}, "y": {"datum": 0.268, "type": "quantitative"}, "text": {"field": "padj", "type": "nominal"}}},
{"data": {"name": "stats"}, "transform": [{"filter": "datum.panel === 'b4'"}], "mark": {"type": "text", "align": "left", "baseline": "middle", "fontSize": 14.2, "color": "black"}, "encoding": {"x": {"datum": -18, "type": "quantitative"}, "y": {"datum": 0.093, "type": "quantitative"}, "text": {"field": "lr", "type": "nominal"}}}
]},
{"width": 357, "height": 56, "title": {"text": "Number at risk", "anchor": "start", "frame": "group", "fontSize": 21, "fontWeight": "normal", "offset": 8, "color": "black"},
"data": {"name": "risk"}, "transform": [{"filter": "datum.panel === 'b4'"}], "mark": {"type": "text", "fontSize": 16, "baseline": "middle", "color": "black"},
"encoding": {"x": {"field": "time", "type": "quantitative", "scale": {"domain": [-195, 3670], "nice": false, "zero": false}, "axis": {"values": [0, 1000, 2000, 3000], "format": "d", "title": "Time (in days)"}},
"y": {"field": "group", "type": "nominal", "scale": {"type": "point", "domain": ["High", "Low"], "padding": 0.577}, "axis": {"title": " ", "labelFontSize": 14.5, "labelColor": {"condition": {"test": "datum.value === 'High'", "value": "#E7B800"}, "value": "#2E9FDF"}}},
"text": {"field": "n", "type": "quantitative"}}}
]}
]}
]}
]
}
],
"config": {
"font": "Liberation Sans",
"view": {"stroke": null},
"axis": {"grid": false, "labelFontSize": 15, "labelColor": "black", "titleFontSize": 18, "titleFontWeight": "normal", "titleColor": "black", "domainColor": "black", "domainWidth": 1.5, "tickColor": "black", "tickWidth": 1.2, "tickSize": 4, "labelPadding": 3},
"axisY": {"minExtent": 38, "titlePadding": 5},
"axisX": {"titlePadding": 4},
"legend": {"titleFontSize": 19, "titleFontWeight": "normal", "titleColor": "black", "labelFontSize": 13, "labelColor": "black", "labelOffset": 7, "columnPadding": 10, "titleBaseline": "top"},
"title": {"color": "black"},
"text": {"color": "black"}
}
}
